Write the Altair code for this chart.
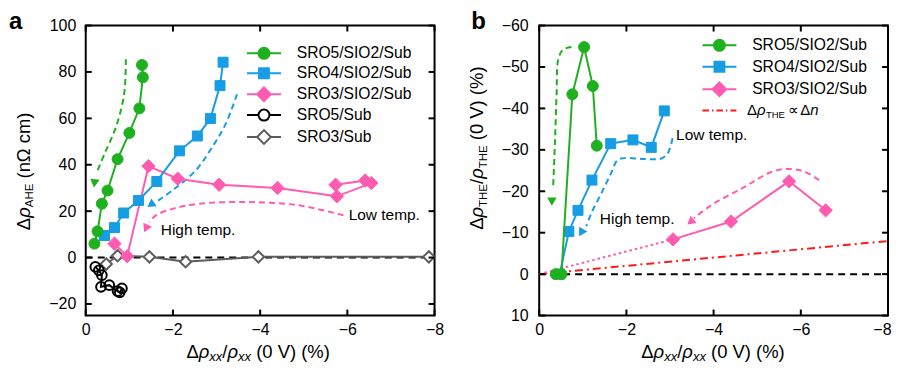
import altair as alt
import pandas as pd

# ---------------- data: panel a ----------------
a_sro5_x = [-0.20, -0.27, -0.37, -0.50, -0.73, -1.00, -1.23, -1.31, -1.29]
a_sro5_y = [6.0, 11.3, 23.2, 28.9, 42.4, 53.7, 64.3, 77.7, 83.0]
a_sro4_x = [-0.43, -0.66, -0.87, -1.21, -1.63, -2.15, -2.56, -2.86, -3.08, -3.15]
a_sro4_y = [9.5, 12.9, 19.2, 24.6, 32.8, 46.0, 52.4, 59.9, 74.1, 84.2]
a_sro3_x = [-0.66, -0.95, -1.44, -2.11, -3.06, -4.40, -5.76, -6.55, -6.41, -5.73]
a_sro3_y = [6.0, 0.6, 39.4, 34.0, 31.4, 30.0, 26.4, 32.1, 33.2, 31.4]
a_sro5sub_x = [-0.22, -0.30, -0.37, -0.35, -0.54, -0.73, -0.78, -0.83]
a_sro5sub_y = [-4.0, -5.5, -7.6, -12.6, -11.9, -14.5, -15.0, -13.3]
a_sro3sub_x = [-0.47, -0.73, -1.46, -2.29, -3.96, -7.87]
a_sro3sub_y = [-2.8, 0.8, 0.3, -1.8, 0.3, 0.3]

a_green_arrow_x = [-0.92, -0.88, -0.69, -0.43, -0.25]
a_green_arrow_y = [85.5, 70.4, 56.1, 44.7, 36.5]
a_green_head = (-0.20, 32.0)
a_blue_arrow_x = [-3.47, -3.21, -2.90, -2.52, -1.99, -1.62]
a_blue_arrow_y = [70.4, 57.6, 47.6, 37.5, 29.0, 24.0]
a_blue_head = (-1.49, 22.8)
a_pink_arrow_x = [-5.91, -4.89, -3.74, -2.60, -1.99, -1.61, -1.46]
a_pink_arrow_y = [18.2, 22.5, 23.9, 23.2, 21.0, 18.2, 15.3]
a_pink_head = (-1.38, 12.5)

# ---------------- data: panel b ----------------
b_sro5_x = [-0.38, -0.51, -0.76, -1.03, -1.23, -1.32]
b_sro5_y = [0.0, 0.0, -43.4, -54.8, -45.4, -31.0]
b_sro4_x = [-0.47, -0.68, -0.89, -1.21, -1.64, -2.15, -2.57, -2.87]
b_sro4_y = [0.0, -10.3, -15.4, -22.7, -31.5, -32.4, -30.6, -39.4]
b_sro3_x = [-3.07, -4.40, -5.73, -6.57]
b_sro3_y = [-8.4, -12.7, -22.4, -15.4]
b_pink_dotted_x = [0.0, -3.07]
b_pink_dotted_y = [0.0, -8.4]
b_dn_x = [0.0, -8.0]
b_dn_y = [0.0, -8.0]

b_green_arrow_x = [-0.74, -0.55, -0.44, -0.40, -0.36, -0.32]
b_green_arrow_y = [-54.8, -54.2, -52.0, -43.6, -31.6, -21.0]
b_green_head = (-0.29, -17.5)
b_blue_arrow_x = [-3.06, -2.95, -2.80, -2.42, -1.96, -1.80, -1.65, -1.43, -1.20, -1.08]
b_blue_arrow_y = [-32.8, -29.2, -27.9, -27.8, -28.0, -27.6, -24.4, -19.6, -14.8, -11.6]
b_blue_head = (-1.01, -10.3)
b_pink_arrow_x = [-6.42, -6.07, -5.69, -5.31, -4.70, -3.94, -3.55]
b_pink_arrow_y = [-22.7, -24.8, -25.4, -24.6, -21.0, -16.6, -13.5]
b_pink_head = (-3.47, -12.6)

zero_x = [0.0, -8.0]
zero_y = [0.0, 0.0]

x_ticks = [0, -2, -4, -6, -8]
a_y_ticks = [-20, 0, 20, 40, 60, 80, 100]
b_y_ticks = [-60, -50, -40, -30, -20, -10, 0, 10]

legend_a = ["SRO5/SIO2/Sub", "SRO4/SIO2/Sub", "SRO3/SIO2/Sub", "SRO5/Sub", "SRO3/Sub"]
legend_b = ["SRO5/SIO2/Sub", "SRO4/SIO2/Sub", "SRO3/SIO2/Sub", "Δρ_THE ∝ Δn"]

# ---------------- style ----------------
FONT = "Liberation Sans"
GREEN = "#1fb01f"
BLUE = "#169de3"
PINK = "#ff5cb1"
GRAY = "#5c5c5c"
RED = "#ff1a1a"
W, H = 350, 291

CW = {"Δ": 0.668, "ρ": 0.577, "x": 0.5, "A": 0.667, "H": 0.722, "E": 0.667, "T": 0.611,
      "/": 0.278, " ": 0.278, "(": 0.333, ")": 0.333, "0": 0.556, "V": 0.667, "%": 0.889,
      "n": 0.556, "Ω": 0.768, "c": 0.5, "m": 0.833, "∝": 0.62}


def tw(s, fs):
    return sum(CW.get(ch, 0.556) for ch in s) * fs


def X(domain, last_right=False):
    kw = {}
    if last_right:
        kw["labelAlign"] = {"condition": {"test": "datum.value == -8", "value": "right"}, "value": "center"}
        kw["labelOffset"] = {"condition": {"test": "datum.value == -8", "value": 3}, "value": 0}
    return alt.X("x:Q", scale=alt.Scale(domain=domain, reverse=True, nice=False, zero=False),
                 axis=alt.Axis(values=x_ticks, title=None, grid=False, ticks=False, tickSize=0,
                               domain=False, labelFontSize=16, labelFont=FONT, labelColor="black",
                               labelPadding=6, format="d", labelFlush=False, **kw))


def Y(domain, values, reverse, pad):
    return alt.Y("y:Q", scale=alt.Scale(domain=domain, reverse=reverse, nice=False, zero=False),
                 axis=alt.Axis(values=values, title=None, grid=False, ticks=False, tickSize=0,
                               domain=False, labelFontSize=16, labelFont=FONT, labelColor="black",
                               labelPadding=pad, format="d", labelFlush=False))


def df_xy(x, y):
    return pd.DataFrame({"x": x, "y": y, "i": list(range(len(x)))})


def line(x, y, xe, ye, color, dash=None, width=2, interp="linear"):
    kw = dict(color=color, strokeWidth=width, interpolate=interp)
    if dash:
        kw["strokeDash"] = dash
    return alt.Chart(df_xy(x, y)).mark_line(**kw).encode(x=xe, y=ye, order="i:Q")


def points(x, y, xe, ye, shape, size, fill, stroke, sw):
    return alt.Chart(df_xy(x, y)).mark_point(
        shape=shape, size=size, filled=True, fill=fill, stroke=stroke, strokeWidth=sw,
        opacity=1, fillOpacity=1).encode(x=xe, y=ye)


def head(pt, xe, ye, color, angle):
    return alt.Chart(df_xy([pt[0]], [pt[1]])).mark_point(
        shape="triangle-up", size=90, filled=True, color=color, angle=angle, opacity=1).encode(x=xe, y=ye)


def label(s, x, y, xe, ye):
    d = pd.DataFrame({"x": [x], "y": [y], "t": [s]})
    return alt.Chart(d).mark_text(align="left", baseline="middle", font=FONT, fontSize=15.5,
                                  color="black").encode(x=xe, y=ye, text="t:N")


def piece(s, px, py, fs, italic=False, bold=False, angle=0):
    d = pd.DataFrame({"t": [s]})
    return alt.Chart(d).mark_text(align="left", baseline="alphabetic", font=FONT, fontSize=fs,
                                  fontStyle="italic" if italic else "normal",
                                  fontWeight="bold" if bold else "normal",
                                  angle=angle, color="black").encode(
        x=alt.value(px), y=alt.value(py), text="t:N")


def compose(pieces, x0, y0, vertical=False):
    """pieces: (text, fontSize, italic, baseline shift, gap before)"""
    out = []
    pos = 0.0
    for s, fs, it, dy, gap in pieces:
        pos += gap
        if vertical:
            out.append(piece(s, x0 + dy, y0 - pos, fs, it, angle=270))
        else:
            out.append(piece(s, x0 + pos, y0 + dy, fs, it))
        pos += tw(s, fs)
    return out


def inward_ticks(xe, ye, yvals):
    tl = 6
    dx = pd.DataFrame({"x": x_ticks})
    dy = pd.DataFrame({"y": yvals})
    r = []
    r.append(alt.Chart(dx).mark_rule(color="black", strokeWidth=2).encode(x=xe, y=alt.value(0), y2=alt.value(tl)))
    r.append(alt.Chart(dx).mark_rule(color="black", strokeWidth=2).encode(x=xe, y=alt.value(H - tl), y2=alt.value(H)))
    r.append(alt.Chart(dy).mark_rule(color="black", strokeWidth=2).encode(y=ye, x=alt.value(0), x2=alt.value(tl)))
    r.append(alt.Chart(dy).mark_rule(color="black", strokeWidth=2).encode(y=ye, x=alt.value(W - tl), x2=alt.value(W)))
    return r


L = 3.1
P_CIRCLE = f"M-{L},0H-1M1,0H{L}M-1,0A1,1,0,1,1,1,0A1,1,0,1,1,-1,0Z"
P_SQUARE = f"M-{L},0H-0.9M0.9,0H{L}M-0.9,-0.9H0.9V0.9H-0.9Z"
P_DIAMOND = f"M-{L},0H-1.25M1.25,0H{L}M-1.25,0L0,-1.25L1.25,0L0,1.25Z"
P_DASHDOT = "M-3.1,0H-1.9M-1.35,0H-1.1M-0.55,0H0.65M1.2,0H1.45M2.0,0H3.1"


def legend_layer(names, paths, fills, strokes, xe, ye, lx, ly, rowpad, hide=None):
    d = pd.DataFrame({"s": names, "x": [None] * len(names), "y": [None] * len(names)})
    kw = dict(orient="none", legendX=lx, legendY=ly, title=None, symbolSize=121,
              symbolStrokeWidth=2, labelFont=FONT, labelFontSize=15.7, labelColor="black",
              symbolOffset=9, labelOffset=25, rowPadding=rowpad, padding=0, symbolOpacity=1)
    if hide:
        kw["labelExpr"] = f"datum.value == '{hide}' ? '' : datum.label"
    leg = alt.Legend(**kw)
    return alt.Chart(d).mark_point(filled=True, size=121).encode(
        x=xe, y=ye,
        shape=alt.Shape("s:N", scale=alt.Scale(domain=names, range=paths), legend=leg),
        fill=alt.Fill("s:N", scale=alt.Scale(domain=names, range=fills), legend=leg),
        stroke=alt.Stroke("s:N", scale=alt.Scale(domain=names, range=strokes), legend=leg),
    )


SP = 0.278 * 18.5  # width of a space in the title font
XT_BASE = 334      # x-title baseline below the plot top
SUB = 2.5          # subscript drop

# ---------------- panel a ----------------
xa = X([-8, 0])
ya = Y([-25, 100], a_y_ticks, False, 10)
la = []
la.append(line(zero_x, zero_y, xa, ya, "black", dash=[7, 5]))
la.append(line(a_green_arrow_x, a_green_arrow_y, xa, ya, GREEN, dash=[6, 4], interp="catmull-rom"))
la.append(line(a_blue_arrow_x, a_blue_arrow_y, xa, ya, BLUE, dash=[6, 4], interp="catmull-rom"))
la.append(line(a_pink_arrow_x, a_pink_arrow_y, xa, ya, PINK, dash=[6, 4], interp="catmull-rom"))
la.append(head(a_green_head, xa, ya, GREEN, 187))
la.append(head(a_blue_head, xa, ya, BLUE, 235))
la.append(head(a_pink_head, xa, ya, PINK, 205))
la.append(line(a_sro3sub_x, a_sro3sub_y, xa, ya, GRAY))
la.append(points(a_sro3sub_x, a_sro3sub_y, xa, ya, "diamond", 130, "white", GRAY, 2))
la.append(line(a_sro5sub_x, a_sro5sub_y, xa, ya, "black"))
la.append(points(a_sro5sub_x, a_sro5sub_y, xa, ya, "circle", 95, "transparent", "black", 2))
la.append(line(a_sro3_x, a_sro3_y, xa, ya, PINK))
la.append(points(a_sro3_x, a_sro3_y, xa, ya, "diamond", 180, PINK, PINK, 1))
la.append(line(a_sro4_x, a_sro4_y, xa, ya, BLUE))
la.append(points(a_sro4_x, a_sro4_y, xa, ya, "square", 100, BLUE, BLUE, 1))
la.append(line(a_sro5_x, a_sro5_y, xa, ya, GREEN))
la.append(points(a_sro5_x, a_sro5_y, xa, ya, "circle", 121, GREEN, GREEN, 1))
la.append(label("Low temp.", -6.03, 18.2, xa, ya))
la.append(label("High temp.", -1.72, 11.8, xa, ya))
la += inward_ticks(xa, ya, a_y_ticks)
la.append(legend_layer(legend_a, [P_CIRCLE, P_SQUARE, P_DIAMOND, P_CIRCLE, P_DIAMOND],
                       [GREEN, BLUE, PINK, "white", "white"],
                       [GREEN, BLUE, PINK, "black", GRAY], xa, ya, 162, 20, 0))
la += compose([("Δ", 18.5, False, 0, 0), ("ρ", 18.5, True, 0, 0), ("xx", 13, True, SUB, 0),
               ("/", 18.5, False, 0, 0), ("ρ", 18.5, True, 0, 0), ("xx", 13, True, SUB, 0),
               ("(0 V) (%)", 18.5, False, 0, SP)], 101, XT_BASE)
la += compose([("Δ", 18.5, False, 0, 0), ("ρ", 18.5, True, 0, 0), ("AHE", 11.5, False, 3.5, 0),
               ("(nΩ cm)", 18.5, False, 0, SP)], -56.3, 205.3, vertical=True)
la.append(piece("a", -77, 3, 24, bold=True))
panel_a = alt.layer(*la).properties(width=W, height=H)

# ---------------- panel b ----------------
xb = X([-8, 0], last_right=True)
yb = Y([-60, 10], b_y_ticks, True, 11)
lb = []
lb.append(line(zero_x, zero_y, xb, yb, "black", dash=[7, 5]))
lb.append(line(b_dn_x, b_dn_y, xb, yb, RED, dash=[8, 4, 2, 4]))
lb.append(line(b_pink_dotted_x, b_pink_dotted_y, xb, yb, PINK, dash=[2.5, 3]))
lb.append(line(b_green_arrow_x, b_green_arrow_y, xb, yb, GREEN, dash=[6, 4], interp="catmull-rom"))
lb.append(line(b_blue_arrow_x, b_blue_arrow_y, xb, yb, BLUE, dash=[6, 4], interp="catmull-rom"))
lb.append(line(b_pink_arrow_x, b_pink_arrow_y, xb, yb, PINK, dash=[6, 4], interp="catmull-rom"))
lb.append(head(b_green_head, xb, yb, GREEN, 180))
lb.append(head(b_blue_head, xb, yb, BLUE, 90))
lb.append(head(b_pink_head, xb, yb, PINK, 230))
lb.append(line(b_sro3_x, b_sro3_y, xb, yb, PINK))
lb.append(points(b_sro3_x, b_sro3_y, xb, yb, "diamond", 180, PINK, PINK, 1))
lb.append(line(b_sro4_x, b_sro4_y, xb, yb, BLUE))
lb.append(points(b_sro4_x, b_sro4_y, xb, yb, "square", 100, BLUE, BLUE, 1))
lb.append(line(b_sro5_x, b_sro5_y, xb, yb, GREEN))
lb.append(points(b_sro5_x, b_sro5_y, xb, yb, "circle", 121, GREEN, GREEN, 1))
lb.append(label("Low temp.", -3.14, -33.6, xb, yb))
lb.append(label("High temp.", -1.39, -13.3, xb, yb))
lb += inward_ticks(xb, yb, b_y_ticks)
lb.append(legend_layer(legend_b, [P_CIRCLE, P_SQUARE, P_DIAMOND, P_DASHDOT],
                       [GREEN, BLUE, PINK, "transparent"],
                       [GREEN, BLUE, PINK, RED], xb, yb, 164, 12, 1.5, hide=legend_b[3]))
lb += compose([("Δ", 15, False, 0, 0), ("ρ", 15, True, 0, 0), ("THE", 9.5, False, 3.5, 0.5),
               ("∝", 15, False, 0, 3), ("Δ", 15, False, 0, 3), ("n", 15, True, 0, 0)], 208.4, 89.5)
lb += compose([("Δ", 18.5, False, 0, 0), ("ρ", 18.5, True, 0, 0), ("xx", 13, True, SUB, 0),
               ("/", 18.5, False, 0, 0), ("ρ", 18.5, True, 0, 0), ("xx", 13, True, SUB, 0),
               ("(0 V) (%)", 18.5, False, 0, SP)], 102.4, XT_BASE)
lb += compose([("Δ", 18.5, False, 0, 0), ("ρ", 18.5, True, 0, 0), ("THE", 11.5, False, 3.5, 0),
               ("/", 18.5, False, 0, 0), ("ρ", 18.5, True, 0, 0), ("THE", 11.5, False, 3.5, 0),
               ("(0 V) (%)", 18.5, False, 0, SP)], -56.3, 205.0, vertical=True)
lb.append(piece("b", -68.3, 3, 24, bold=True))
panel_b = alt.layer(*lb).properties(width=W, height=H)

chart = alt.hconcat(panel_a, panel_b, spacing=105, bounds="flush").resolve_scale(
    shape="independent", fill="independent", stroke="independent"
).configure_view(stroke="black", strokeWidth=2).properties(
    padding={"left": 0, "top": 0, "right": 0, "bottom": 0})

chart.save("out.html", embed_options={"renderer": "svg", "actions": False})
